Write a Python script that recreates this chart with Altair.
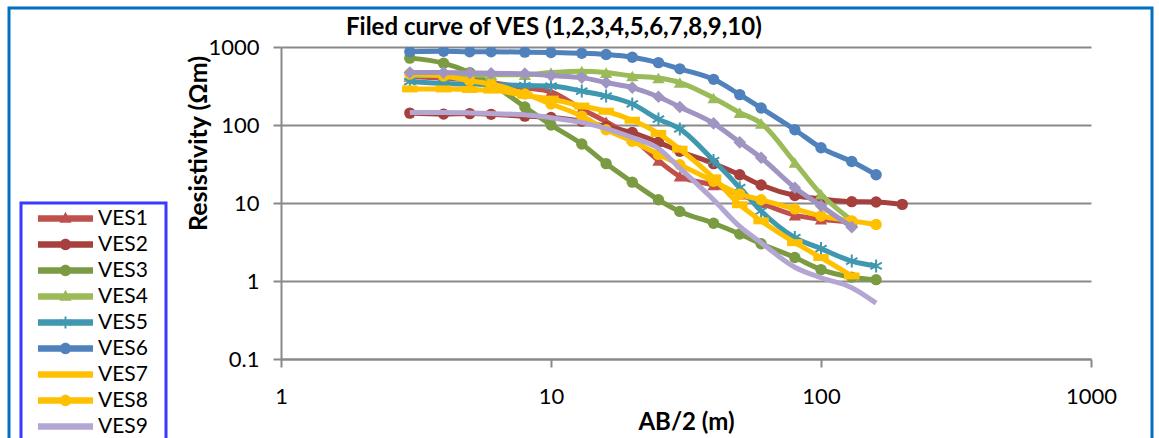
import math
import altair as alt
import pandas as pd

# ---------------- data ----------------
AB2 = [3, 4, 5, 6, 8, 10, 13, 16, 20, 25, 30, 40, 50, 60, 80, 100, 130, 160, 200]
SERIES = ["VES1", "VES2", "VES3", "VES4", "VES5", "VES6", "VES7", "VES8", "VES9", "VES10"]

VES1 = [420, 400, 380, 350, 300, 265, 160, 110, 68, 35, 22, 17, 13, 10, 7.0, 6.2, 5.7]
VES2 = [142, 138, 140, 137, 130, 125, 112, 95, 80, 60, 46, 32, 23, 17, 12.5, 11.3, 10.4, 10.3, 9.6]
VES3 = [720, 620, 470, 340, 170, 100, 57, 32, 18.5, 11, 7.8, 5.5, 4.0, 3.0, 2.0, 1.4, 1.12, 1.04]
VES4 = [430, 430, 435, 440, 440, 470, 490, 470, 425, 400, 350, 222, 144, 105, 33, 13, 6]
VES5 = [360, 340, 335, 330, 320, 316, 272, 235, 186, 119, 89, 35, 15.7, 7.9, 3.6, 2.6, 1.8, 1.56]
VES6 = [870, 880, 870, 870, 860, 850, 830, 800, 740, 630, 525, 385, 245, 165, 87, 51, 34, 23]
VES7 = [290, 290, 285, 280, 240, 215, 175, 150, 115, 78, 49, 21, 9.5, 5.9, 3.1, 2.0, 1.16]
VES8 = [450, 425, 370, 335, 250, 186, 130, 87, 62, 42, 31, 19, 13, 11, 8.4, 6.8, 5.9, 5.3]
VES9 = [145, 145, 143, 140, 135, 124, 108, 90, 69, 50, 28, 11, 5, 3.1, 1.5, 1.1, 0.82, 0.52]
VES10 = [470, 470, 465, 460, 455, 430, 405, 350, 302, 230, 170, 105, 60, 38, 15.7, 9.2, 4.9]

VALUES = [VES1, VES2, VES3, VES4, VES5, VES6, VES7, VES8, VES9, VES10]
COLORS = ["#C0504D", "#A5403C", "#7A9B42", "#9BBB59", "#4098B0",
          "#4F81BD", "#FFC000", "#FFC000", "#B4A6D2", "#A094C2"]
MARKERS = ["triangle", "circle", "circle", "triangle", "asterisk",
           "circle", "dash", "circle", None, "diamond"]

TITLE = "Filed curve of VES (1,2,3,4,5,6,7,8,9,10)"
X_TITLE = "AB/2 (m)"
Y_TITLE = "Resistivity (\u03a9m)"
X_TICKS = [1, 10, 100, 1000]
Y_TICKS = [0.1, 1, 10, 100, 1000]

rows = []
for name, vals in zip(SERIES, VALUES):
    for xv, yv in zip(AB2, vals):
        rows.append({"VES": name, "AB2": xv, "rho": yv})
df = pd.DataFrame(rows)

# ---------------- marker / legend shapes ----------------
def rect(x0, y0, x1, y1):
    return f"M{x0:.3f},{y0:.3f}H{x1:.3f}V{y1:.3f}H{x0:.3f}Z"

def poly(pts):
    return "M" + "L".join(f"{x:.3f},{y:.3f}" for x, y in pts) + "Z"

def circ(r):
    return f"M{-r:.3f},0A{r:.3f},{r:.3f} 0 1,1 {r:.3f},0A{r:.3f},{r:.3f} 0 1,1 {-r:.3f},0Z"

def bar(angle, half_len, half_w):
    c, s = math.cos(angle), math.sin(angle)
    pts = [(-half_len, -half_w), (half_len, -half_w), (half_len, half_w), (-half_len, half_w)]
    return poly([(x * c - y * s, x * s + y * c) for x, y in pts])

LINE = rect(-3.93, -0.45, 3.93, 0.45)
LEG_MARK = {
    "triangle": poly([(0, -0.95), (0.86, 0.62), (-0.86, 0.62)]),
    "circle": circ(0.82),
    "diamond": poly([(0, -0.9), (0.9, 0), (0, 0.9), (-0.9, 0)]),
    "asterisk": bar(math.pi / 2, 0.85, 0.14) + bar(math.pi / 6, 0.85, 0.14) + bar(-math.pi / 6, 0.85, 0.14),
    "dash": "",
    None: "",
}
LEG_PATHS = [LINE + LEG_MARK[m] for m in MARKERS]

CHART_SHAPE = {
    "triangle": ("triangle-up", 150, True),
    "circle": ("circle", 130, True),
    "diamond": ("diamond", 160, True),
    "asterisk": ("M0,-1V1M-0.87,-0.5L0.87,0.5M-0.87,0.5L0.87,-0.5", 170, False),
    "dash": ("M-1,-0.45H1V0.45H-1Z", 240, True),
}

# ---------------- encodings ----------------
GRAY = "#898989"
FONT = "Lato"

x_enc = alt.X(
    "AB2:Q",
    scale=alt.Scale(type="log", domain=[1, 1000], nice=False),
    axis=alt.Axis(values=X_TICKS, format="~g", grid=False, domainColor=GRAY, domainWidth=2,
                  tickColor=GRAY, tickWidth=2, tickSize=8, labelFont=FONT, labelFontSize=22,
                  labelColor="black", labelPadding=19, labelFlush=False,
                  title=X_TITLE, titleFont=FONT, titleFontSize=24, titleFontWeight="bold",
                  titleColor="black", titlePadding=3),
)
y_enc = alt.Y(
    "rho:Q",
    scale=alt.Scale(type="log", domain=[0.1, 1000], nice=False),
    axis=alt.Axis(values=Y_TICKS, format="~g", grid=True, gridColor=GRAY, gridWidth=2,
                  domainColor=GRAY, domainWidth=2, tickColor=GRAY, tickWidth=2, tickSize=8,
                  labelFont=FONT, labelFontSize=22, labelColor="black", labelPadding=14,
                  title=Y_TITLE, titleFont=FONT, titleFontSize=25, titleFontWeight="bold",
                  titleColor="black", titleX=-83, titleY=96, titleAngle=270,
                  titleAlign="center", titleBaseline="middle"),
)

layers = []
frame = alt.Chart(pd.DataFrame({"k": [0]})).mark_rect(
    fillOpacity=0, stroke="#0070C0", strokeWidth=3
).encode(x=alt.value(-272), x2=alt.value(871), y=alt.value(-39), y2=alt.value(404))
layers.append(frame)

for name, mk, col in zip(SERIES, MARKERS, COLORS):
    base = alt.Chart().transform_filter(alt.datum.VES == name)
    layers.append(
        base.mark_line(strokeWidth=5, interpolate="monotone", clip=True, color=col)
        .encode(x=x_enc, y=y_enc)
    )
    if mk is not None:
        shp, sz, filled = CHART_SHAPE[mk]
        props = dict(shape=shp, size=sz, filled=filled, opacity=1, clip=True, color=col)
        if not filled:
            props["strokeWidth"] = 2
        layers.append(base.mark_point(**props).encode(x=x_enc, y=y_enc))

leg = alt.Legend(
    orient="none", legendX=-260, legendY=156, title=None,
    labelFont=FONT, labelFontSize=21, labelColor="black",
    labelExpr="datum.label + '    '",
    symbolSize=196, symbolStrokeWidth=0, symbolOpacity=1,
    symbolOffset=29, labelOffset=22, padding=5, rowPadding=4,
    strokeColor="#3a3aff",
)
cscale = alt.Scale(domain=SERIES, range=COLORS)
# invisible carrier layer: only used to build the legend (line + marker symbols)
carrier = alt.Chart().mark_point(filled=True, opacity=0, size=1).encode(
    x=x_enc, y=y_enc,
    color=alt.Color("VES:N", scale=cscale, legend=leg),
    shape=alt.Shape("VES:N", scale=alt.Scale(domain=SERIES, range=LEG_PATHS), legend=leg),
)
layers.append(carrier)

chart = (
    alt.layer(*layers, data=df)
    .properties(
        width=810, height=312,
        padding={"left": 7, "top": 6, "right": 5, "bottom": 5},
        title=alt.TitleParams(TITLE, anchor="start", frame="group", dx=65, dy=35, offset=-22,
                              baseline="bottom", font=FONT, fontSize=24, fontWeight="bold",
                              color="black"),
    )
    .configure_view(stroke=None)
    .configure_legend(strokeWidth=3)
)

chart.save("out.html", embed_options={"renderer": "svg", "actions": False})
